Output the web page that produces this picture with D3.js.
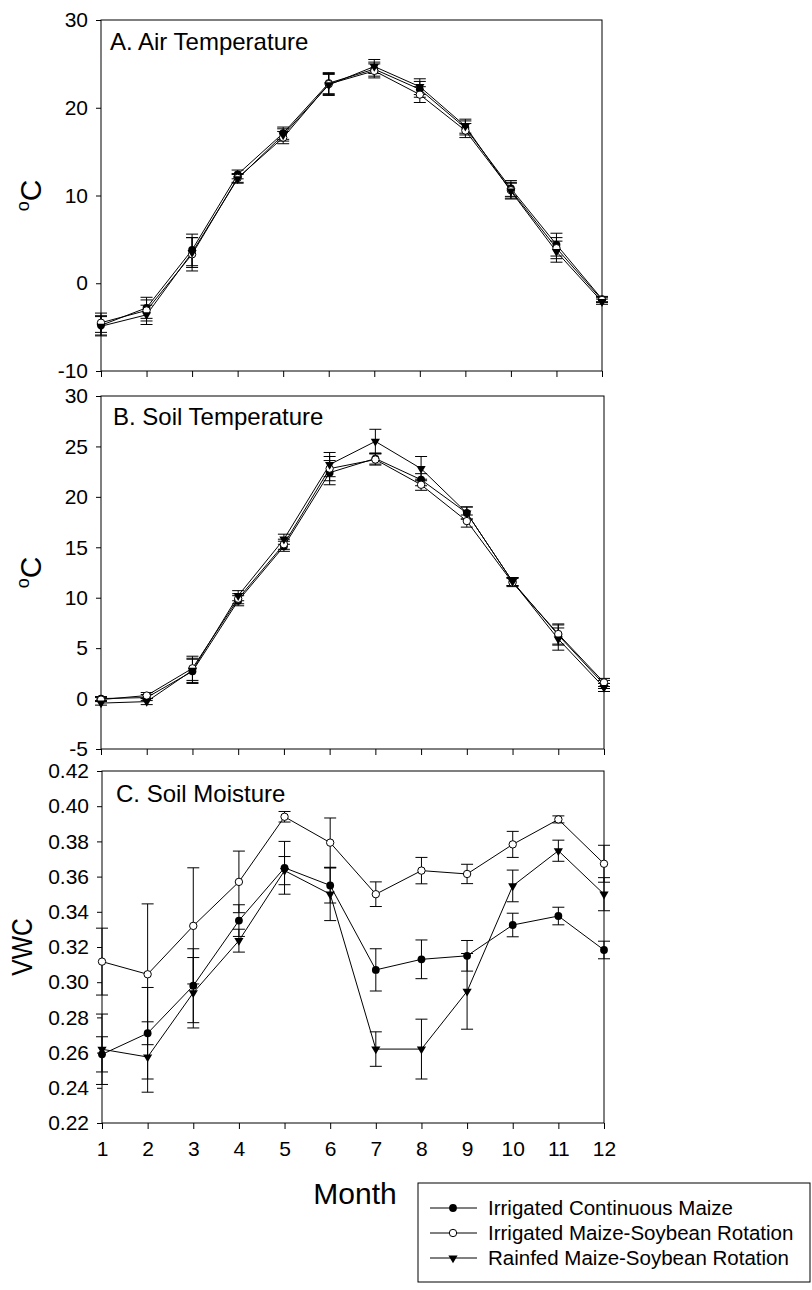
<!DOCTYPE html>
<html>
<head>
<meta charset="utf-8">
<script src="https://cdn.jsdelivr.net/npm/d3@7"></script>
<style>
  html, body { margin: 0; padding: 0; background: #fff; }
  svg { display: block; font-family: "Liberation Sans", Arial, sans-serif; }
</style>
</head>
<body>
<svg id="chart" width="812" height="1290"></svg>
<script>
// ---------------- data ----------------
const months = [1, 2, 3, 4, 5, 6, 7, 8, 9, 10, 11, 12];
const seriesNames = ["Irrigated Continuous Maize", "Irrigated Maize-Soybean Rotation", "Rainfed Maize-Soybean Rotation"];

// A. Air temperature (oC)
const airContMaize    = [-4.8, -2.8, 3.8, 12.4, 17.1, 22.8, 24.4, 22.1, 17.7, 10.8, 4.4, -1.8];
const airContMaizeErr = [1.1, 1.2, 1.8, 0.5, 0.7, 1.2, 0.8, 0.9, 0.8, 0.9, 1.3, 0.3];
const airIrrRot       = [-4.5, -3.1, 3.3, 12.0, 16.6, 22.7, 24.2, 21.5, 17.4, 10.6, 4.0, -1.9];
const airIrrRotErr    = [1.1, 1.2, 1.9, 0.5, 0.7, 1.2, 0.8, 0.9, 0.8, 0.9, 1.2, 0.3];
const airRainRot      = [-4.9, -3.6, 3.5, 11.9, 16.9, 22.6, 24.7, 22.4, 17.9, 10.5, 3.6, -2.1];
const airRainRotErr   = [1.1, 1.1, 1.7, 0.5, 0.7, 1.2, 0.8, 0.9, 0.8, 0.9, 1.2, 0.3];

// B. Soil temperature (oC)
const soilTContMaize    = [0.0, 0.1, 2.7, 9.7, 15.1, 22.4, 23.8, 21.7, 18.4, 11.6, 6.3, 1.4];
const soilTContMaizeErr = [0.2, 0.3, 1.2, 0.5, 0.5, 1.2, 0.55, 0.6, 0.6, 0.4, 1.0, 0.4];
const soilTIrrRot       = [-0.1, 0.3, 3.0, 9.9, 15.3, 22.8, 23.7, 21.2, 17.6, 11.5, 6.4, 1.6];
const soilTIrrRotErr    = [0.2, 0.3, 1.2, 0.5, 0.5, 1.2, 0.55, 0.55, 0.6, 0.4, 1.0, 0.4];
const soilTRainRot      = [-0.45, -0.3, 2.8, 10.2, 15.8, 23.2, 25.5, 22.8, 18.4, 11.6, 5.9, 1.1];
const soilTRainRotErr   = [0.2, 0.3, 1.2, 0.5, 0.5, 1.2, 1.2, 1.2, 0.6, 0.4, 1.1, 0.4];

// C. Soil moisture (VWC)
const vwcContMaize    = [0.259, 0.271, 0.298, 0.335, 0.365, 0.355, 0.307, 0.313, 0.315, 0.3325, 0.3376, 0.3183];
const vwcContMaizeErr = [0.010, 0.026, 0.021, 0.009, 0.015, 0.010, 0.012, 0.011, 0.0087, 0.0067, 0.005, 0.005];
const vwcIrrRot       = [0.3117, 0.3045, 0.332, 0.357, 0.394, 0.3793, 0.350, 0.3634, 0.3615, 0.3783, 0.3925, 0.3673];
const vwcIrrRotErr    = [0.019, 0.040, 0.033, 0.0175, 0.003, 0.014, 0.007, 0.0075, 0.0055, 0.0074, 0.002, 0.0105];
const vwcRainRot      = [0.2619, 0.2575, 0.294, 0.3236, 0.3634, 0.350, 0.262, 0.262, 0.2948, 0.3547, 0.3747, 0.350];
const vwcRainRotErr   = [0.020, 0.020, 0.020, 0.0065, 0.008, 0.015, 0.0098, 0.017, 0.0215, 0.009, 0.006, 0.0094];

const airTicks  = [-10, 0, 10, 20, 30];
const soilTicks = [-5, 0, 5, 10, 15, 20, 25, 30];
const vwcTicks  = [0.22, 0.24, 0.26, 0.28, 0.30, 0.32, 0.34, 0.36, 0.38, 0.40, 0.42];
const monthTicks = months;

const panelTitles = ["A. Air Temperature", "B. Soil Temperature", "C. Soil Moisture"];
const xTitle = "Month";

// ---------------- drawing ----------------
const svg = d3.select("#chart");
const FONT = '"Liberation Sans", Arial, sans-serif';
const hyphen = f => (v => f(v).replace("\u2212", "-"));

const panels = [
  { title: panelTitles[0], left: 101, right: 602, top: 20, bottom: 371, domain: [-10, 30], ticks: airTicks, fmt: hyphen(d3.format("d")),
    ylabel: "oC", titleX: 110, titleY: 50,
    series: [[airContMaize, airContMaizeErr], [airIrrRot, airIrrRotErr], [airRainRot, airRainRotErr]] },
  { title: panelTitles[1], left: 101, right: 604, top: 396, bottom: 749, domain: [-5, 30], ticks: soilTicks, fmt: hyphen(d3.format("d")),
    ylabel: "oC", titleX: 113, titleY: 425,
    series: [[soilTContMaize, soilTContMaizeErr], [soilTIrrRot, soilTIrrRotErr], [soilTRainRot, soilTRainRotErr]] },
  { title: panelTitles[2], left: 102, right: 604, top: 771, bottom: 1123, domain: [0.22, 0.42], ticks: vwcTicks, fmt: d3.format(".2f"),
    ylabel: "VWC", titleX: 116, titleY: 802, showX: true,
    series: [[vwcContMaize, vwcContMaizeErr], [vwcIrrRot, vwcIrrRotErr], [vwcRainRot, vwcRainRotErr]] }
];

const triPath = "M-4.6,-2.6 L4.6,-2.6 L0,5.2 Z";

function drawMarker(g, kind, x, y) {
  if (kind === 0) {
    g.append("circle").attr("cx", x).attr("cy", y).attr("r", 3.9).attr("fill", "#000");
  } else if (kind === 1) {
    g.append("circle").attr("cx", x).attr("cy", y).attr("r", 3.7).attr("fill", "#fff").attr("stroke", "#000").attr("stroke-width", 1);
  } else {
    g.append("path").attr("d", triPath).attr("transform", `translate(${x},${y})`).attr("fill", "#000");
  }
}

panels.forEach(p => {
  const x = d3.scaleLinear().domain([1, 12]).range([p.left, p.right]);
  const y = d3.scaleLinear().domain(p.domain).range([p.bottom, p.top]);
  const g = svg.append("g");

  // frame
  g.append("rect").attr("x", p.left).attr("y", p.top).attr("width", p.right - p.left).attr("height", p.bottom - p.top)
    .attr("fill", "none").attr("stroke", "#000").attr("stroke-width", 1);

  // y axis
  const ya = g.append("g").attr("transform", `translate(${p.left},0)`)
    .call(d3.axisLeft(y).tickValues(p.ticks).tickFormat(p.fmt).tickSize(5).tickPadding(8));
  ya.select(".domain").remove();
  ya.selectAll("text").attr("font-size", 21).attr("font-family", FONT).attr("fill", "#000");

  // x axis
  const xa = g.append("g").attr("transform", `translate(0,${p.bottom})`)
    .call(d3.axisBottom(x).tickValues(monthTicks).tickFormat(p.showX ? d3.format("d") : () => "").tickSize(6).tickPadding(12));
  xa.select(".domain").remove();
  xa.selectAll("text").attr("font-size", 21).attr("font-family", FONT).attr("fill", "#000");

  // panel title
  g.append("text").attr("x", p.titleX).attr("y", p.titleY).attr("font-size", 24).attr("font-family", FONT).text(p.title);

  // y label
  const cy = (p.top + p.bottom) / 2;
  if (p.ylabel === "oC") {
    const t = g.append("text").attr("transform", `translate(41,${cy}) rotate(-90)`).attr("text-anchor", "middle").attr("font-family", FONT);
    t.append("tspan").attr("font-size", 18).attr("dy", -12).text("o");
    t.append("tspan").attr("font-size", 30).attr("dy", 12).text("C");
  } else {
    g.append("text").attr("transform", `translate(32,${cy}) rotate(-90) scale(0.82,1)`).attr("text-anchor", "middle")
      .attr("font-size", 30).attr("font-family", FONT).text(p.ylabel);
  }

  // error bars
  p.series.forEach(([vals, errs]) => {
    vals.forEach((v, i) => {
      const cx = x(months[i]);
      const y1 = y(v + errs[i]), y2 = y(v - errs[i]);
      g.append("line").attr("x1", cx).attr("x2", cx).attr("y1", y1).attr("y2", y2).attr("stroke", "#000").attr("stroke-width", 1);
      [y1, y2].forEach(yy => g.append("line").attr("x1", cx - 6).attr("x2", cx + 6).attr("y1", yy).attr("y2", yy)
        .attr("stroke", "#000").attr("stroke-width", 1));
    });
  });

  // lines
  const line = d3.line().x((d, i) => x(months[i])).y(d => y(d));
  p.series.forEach(([vals]) => {
    g.append("path").attr("d", line(vals)).attr("fill", "none").attr("stroke", "#000").attr("stroke-width", 1);
  });

  // markers
  p.series.forEach(([vals], k) => {
    vals.forEach((v, i) => drawMarker(g, k, x(months[i]), y(v)));
  });
});

// x title
svg.append("text").attr("x", 355).attr("y", 1204).attr("text-anchor", "middle").attr("font-size", 30).attr("font-family", FONT).text(xTitle);

// legend
const lg = svg.append("g");
lg.append("rect").attr("x", 418).attr("y", 1183).attr("width", 392).attr("height", 99).attr("fill", "#fff").attr("stroke", "#000").attr("stroke-width", 1);
const legY = d3.scalePoint().domain(seriesNames).range([1208, 1258]);
seriesNames.forEach((name, k) => {
  const yy = legY(name);
  lg.append("line").attr("x1", 430).attr("x2", 477).attr("y1", yy).attr("y2", yy).attr("stroke", "#000").attr("stroke-width", 1);
  drawMarker(lg, k, 453, yy);
  lg.append("text").attr("x", 488).attr("y", yy + 7).attr("font-size", 20.5).attr("font-family", FONT).text(name);
});
</script>
</body>
</html>
